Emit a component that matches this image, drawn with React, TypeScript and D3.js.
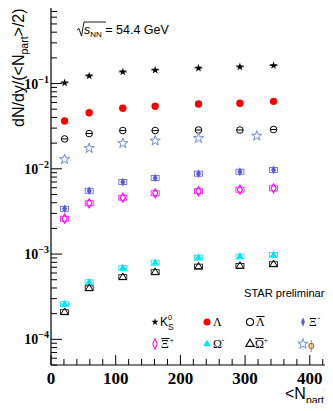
import React, { useEffect, useRef } from 'react';
import * as d3 from 'd3';

// <Npart> for the 7 centrality bins (phi has 6 bins)
const npart = [21, 59, 111, 161, 228, 292, 344];
const npartPhi = [21, 59, 111, 161, 228, 318];

const k0s = [0.102, 0.123, 0.137, 0.144, 0.152, 0.157, 0.163];
const lambda = [0.0363, 0.0455, 0.0512, 0.0541, 0.0575, 0.0586, 0.0618];
const antiLambda = [0.0224, 0.0259, 0.0281, 0.0281, 0.0285, 0.0285, 0.0289];
const xiMinus = [0.0034, 0.00553, 0.0070, 0.0078, 0.00877, 0.00925, 0.0097];
const antiXiPlus = [0.0026, 0.00394, 0.00459, 0.00516, 0.00545, 0.00569, 0.0059];
const omegaMinus = [0.000258, 0.000467, 0.000687, 0.000792, 0.000907, 0.000933, 0.000978];
const antiOmegaPlus = [0.000208, 0.000397, 0.000535, 0.000612, 0.000712, 0.000725, 0.000759];
const phi = [0.0129, 0.0174, 0.0199, 0.0213, 0.0228, 0.0243];

const xTicks = [0, 100, 200, 300, 400];
const yDecades = [-1, -2, -3, -4];

function App() {
  const svgRef = useRef<SVGSVGElement>(null);

  useEffect(() => {
    const width = 333;
    const height = 411;
    const svg = d3.select(svgRef.current).attr('width', width).attr('height', height);
    svg.selectAll('*').remove();

    const left = 51, bottom = 365, top = 3;
    const x = d3.scaleLinear().domain([0, 450]).range([left, left + 450 * 0.647]);
    const y = d3.scaleLog().domain([5.0e-5, 0.88]).range([bottom, top]);

    const serif = 'Liberation Serif, Times New Roman, serif';
    const sans = 'Liberation Sans, Arial, sans-serif';

    // frame
    svg.append('line').attr('x1', left).attr('x2', 345).attr('y1', top).attr('y2', top)
      .attr('stroke', '#555').attr('stroke-width', 2);
    svg.append('line').attr('x1', left).attr('x2', left).attr('y1', top).attr('y2', bottom)
      .attr('stroke', '#000').attr('stroke-width', 1.2);
    svg.append('line').attr('x1', left).attr('x2', 345).attr('y1', bottom).attr('y2', bottom)
      .attr('stroke', '#000').attr('stroke-width', 1.2);

    // x ticks
    const xMinor = d3.range(0, 451, 20);
    svg.append('g').selectAll('line').data(xMinor).enter().append('line')
      .attr('x1', d => x(d)).attr('x2', d => x(d))
      .attr('y1', bottom).attr('y2', d => d % 100 === 0 ? bottom - 10 : bottom - 6)
      .attr('stroke', '#000').attr('stroke-width', 1);
    svg.append('g').selectAll('text').data(xTicks).enter().append('text')
      .attr('x', d => x(d)).attr('y', 384)
      .attr('text-anchor', 'middle')
      .attr('font-family', serif).attr('font-weight', 'bold').attr('font-size', 17)
      .text(d => d);

    // y ticks
    const yMinor: number[] = [];
    for (let e = -5; e <= 0; e++) {
      for (let m = 1; m <= 9; m++) {
        const v = m * Math.pow(10, e);
        if (v >= 5e-5 && v <= 0.88) yMinor.push(v);
      }
    }
    svg.append('g').selectAll('line').data(yMinor).enter().append('line')
      .attr('x1', left).attr('x2', d => {
        const isMajor = Math.abs(Math.log10(d) - Math.round(Math.log10(d))) < 1e-6;
        return isMajor ? left + 11 : left + 6;
      })
      .attr('y1', d => y(d)).attr('y2', d => y(d))
      .attr('stroke', '#000').attr('stroke-width', 1);

    const yl = svg.append('g').selectAll('text').data(yDecades).enter().append('text')
      .attr('x', 49).attr('y', d => y(Math.pow(10, d)) + 5)
      .attr('text-anchor', 'end')
      .attr('font-family', serif).attr('font-weight', 'bold').attr('font-size', 14);
    yl.append('tspan').text('10');
    yl.append('tspan').attr('dy', -6).attr('font-size', 10).text(d => `\u2212${-d}`);

    // axis titles
    const yt = svg.append('text')
      .attr('transform', 'translate(23.5,127) rotate(-90)')
      .attr('text-anchor', 'start')
      .attr('font-family', sans).attr('font-size', 16);
    yt.append('tspan').text('dN/dy/(<N');
    yt.append('tspan').attr('dy', 4).attr('font-size', 10.5).text('part');
    yt.append('tspan').attr('dy', -4).text('>/2)');

    const xt = svg.append('text').attr('x', 285).attr('y', 399)
      .attr('font-family', sans).attr('font-size', 16);
    xt.append('tspan').text('<N');
    xt.append('tspan').attr('dy', 5).attr('font-size', 10.5).text('part');
    xt.append('tspan').attr('dy', -5).text('>');

    // energy label
    const en = svg.append('g');
    en.append('path').attr('d', 'M77,30 L79,28.5 L81.5,36 L84,22 L106,22')
      .attr('fill', 'none').attr('stroke', '#000').attr('stroke-width', 0.9);
    const et = en.append('text').attr('x', 84).attr('y', 34)
      .attr('font-family', sans).attr('font-size', 12.5);
    et.append('tspan').attr('font-style', 'italic').text('s');
    et.append('tspan').attr('dy', 3).attr('font-size', 8).text('NN');
    et.append('tspan').attr('dy', -3).text(' = 54.4 GeV');

    svg.append('text').attr('x', 244).attr('y', 297)
      .attr('font-family', sans).attr('font-size', 10.7)
      .attr('textLength', 86).attr('lengthAdjust', 'spacingAndGlyphs')
      .text('STAR preliminary');

    // markers
    const star = (s: number) => d3.symbol().type(d3.symbolStar).size(s)();
    const diamond = (s: number) => d3.symbol().type(d3.symbolDiamond).size(s)();
    const triangle = (s: number) => d3.symbol().type(d3.symbolTriangle).size(s)();

    const drawSeries = (xs: number[], vals: number[], draw: (g: any) => void) => {
      vals.forEach((v, i) => {
        const g = svg.append('g').attr('transform', `translate(${x(xs[i])},${y(v)})`);
        draw(g);
      });
    };

    const sysBox = (g: any, color: string) => {
      g.append('rect').attr('x', -4).attr('y', -2.5).attr('width', 8).attr('height', 5)
        .attr('fill', 'none').attr('stroke', color).attr('stroke-width', 0.8);
    };

    // K0s
    drawSeries(npart, k0s, g => {
      g.append('line').attr('x1', -4).attr('x2', 4).attr('stroke', '#000').attr('stroke-width', 0.8);
      g.append('path').attr('d', star(20)).attr('fill', '#000');
    });
    // Lambda
    drawSeries(npart, lambda, g => {
      g.append('circle').attr('r', 3.7).attr('fill', '#ff0000');
    });
    // anti-Lambda
    drawSeries(npart, antiLambda, g => {
      g.append('circle').attr('r', 3.3).attr('fill', 'none').attr('stroke', '#000').attr('stroke-width', 1);
      g.append('line').attr('x1', -3.3).attr('x2', 3.3).attr('stroke', '#000').attr('stroke-width', 1);
    });
    // phi
    drawSeries(npartPhi, phi, g => {
      g.append('path').attr('d', star(32)).attr('fill', 'none').attr('stroke', '#6d8fd2').attr('stroke-width', 1);
    });
    // Xi-
    drawSeries(npart, xiMinus, g => {
      sysBox(g, '#5a5ae0');
      g.append('path').attr('d', diamond(22)).attr('fill', '#5a5ae0');
    });
    // anti-Xi+
    drawSeries(npart, antiXiPlus, g => {
      sysBox(g, '#ff00ff');
      g.append('path').attr('d', diamond(24)).attr('fill', 'none').attr('stroke', '#ff00ff').attr('stroke-width', 1.1);
    });
    // Omega-
    drawSeries(npart, omegaMinus, g => {
      sysBox(g, '#00e5ee');
      g.append('path').attr('d', triangle(24)).attr('fill', '#00e5ee');
    });
    // anti-Omega+
    drawSeries(npart, antiOmegaPlus, g => {
      sysBox(g, '#000');
      g.append('path').attr('d', triangle(24)).attr('fill', 'none').attr('stroke', '#000').attr('stroke-width', 1);
    });

    // legend
    const lg = svg.append('g');
    const r1 = 322, r2 = 344;
    const cols = [155, 207, 250, 303];
    const mk = (cx: number, cy: number) => lg.append('g').attr('transform', `translate(${cx},${cy})`);

    mk(cols[0], r1).append('path').attr('d', star(16)).attr('fill', '#000');
    mk(cols[1], r1).append('circle').attr('r', 3.5).attr('fill', '#ff0000');
    mk(cols[2], r1).append('circle').attr('r', 3.5).attr('fill', 'none').attr('stroke', '#000').attr('stroke-width', 1.1);
    mk(cols[3], r1).attr('transform', `translate(${cols[3]},${r1}) scale(0.75,1.1)`)
      .append('path').attr('d', diamond(22)).attr('fill', '#5a5ae0');
    mk(cols[0], r2).attr('transform', `translate(${cols[0]},${r2}) scale(0.8,1.1)`)
      .append('path').attr('d', diamond(26)).attr('fill', 'none').attr('stroke', '#ff00ff').attr('stroke-width', 1.2);
    mk(cols[1], r2).append('path').attr('d', triangle(24)).attr('fill', '#00e5ee');
    mk(cols[2], r2).append('path').attr('d', triangle(30)).attr('fill', 'none').attr('stroke', '#000').attr('stroke-width', 1.1);
    mk(cols[3], r2).append('path').attr('d', star(34)).attr('fill', 'none').attr('stroke', '#6d8fd2').attr('stroke-width', 1);

    const label = (lx: number, ly: number, main: string, sub: string | null, sup: string | null, bar: boolean, color = '#000', family = serif, fs = 12) => {
      const t = lg.append('text').attr('x', lx).attr('y', ly)
        .attr('font-family', family).attr('font-size', fs).attr('fill', color);
      t.text(main);
      const w = fs * 0.67;
      if (sup && sub) {
        lg.append('text').attr('x', lx + w).attr('y', ly - 6.5)
          .attr('font-family', family).attr('font-size', 7.5).attr('fill', color).text(sup);
        lg.append('text').attr('x', lx + w).attr('y', ly + 4)
          .attr('font-family', family).attr('font-size', 8.5).attr('fill', color).text(sub);
      } else if (sup) {
        lg.append('text').attr('x', lx + w + 0.5).attr('y', ly - 5)
          .attr('font-family', family).attr('font-size', 8).attr('fill', color).text(sup);
      }
      if (bar) {
        lg.append('line').attr('x1', lx + 0.3).attr('x2', lx + fs * 0.72).attr('y1', ly - 9.5).attr('y2', ly - 9.5)
          .attr('stroke', color).attr('stroke-width', 1);
      }
    };
    label(cols[0] + 5, r1 + 4, 'K', 'S', '0', false, '#000', sans, 12);
    label(cols[1] + 6, r1 + 4, 'Λ', null, null, false);
    label(cols[2] + 6, r1 + 4, 'Λ', null, null, true);
    label(cols[3] + 6, r1 + 4, 'Ξ', null, '-', false);
    label(cols[0] + 6, r2 + 4, 'Ξ', null, '+', true);
    label(cols[1] + 6, r2 + 4, 'Ω', null, '-', false);
    label(cols[2] + 5, r2 + 4, 'Ω', null, '+', true);
    label(cols[3] + 5, r2 + 5, 'ϕ', null, null, false, '#555');
  }, []);

  return (
    <div style={{ margin: -8 }}>
      <svg ref={svgRef} style={{ display: 'block' }}></svg>
    </div>
  );
}

export default App;
